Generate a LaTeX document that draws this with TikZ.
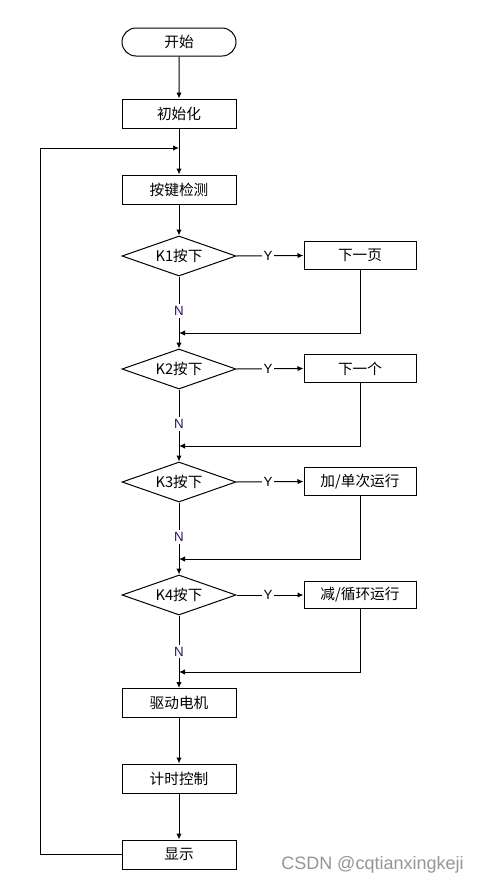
\documentclass[tikz,border=0pt]{standalone}
\usepackage{fontspec}
\setmainfont{Liberation Sans}
\newfontfamily\cjk{Noto Sans CJK SC}
\usetikzlibrary{shapes.geometric,shapes.misc,arrows.meta}
\definecolor{ncol}{RGB}{48,16,96}
\definecolor{wm}{RGB}{150,150,150}
\begin{document}
\begin{tikzpicture}[x=0.75pt,y=-0.75pt,
  box/.style={draw, line width=0.75pt, minimum width=85.5pt, minimum height=21.75pt, inner sep=0pt, font=\cjk\fontsize{11}{12}\selectfont},
  rbox/.style={box, minimum width=84pt, minimum height=20.5pt},
  term/.style={box, rounded rectangle, minimum height=21pt},
  dec/.style={draw, diamond, line width=0.75pt, minimum width=85.5pt, minimum height=30pt, inner sep=0pt, aspect=2.85, font=\cjk\fontsize{11}{12}\selectfont},
  arr/.style={line width=0.75pt, -{Latex[length=4.5pt,width=4pt]}},
  lab/.style={fill=white, inner sep=1.5pt, font=\fontsize{10}{11}\selectfont}
]
\fill[white] (0,0) rectangle (484,886);
\useasboundingbox (0,0) rectangle (484,886);

\node[term] (start) at (179,42) {开始};
\node[box] (init) at (179,113.5) {初始化};
\node[box] (key) at (179,189.5) {按键检测};

\node[dec] (d1) at (179,256) {K1按下};
\node[rbox] (b1) at (360,255.5) {下一页};
\node[dec] (d2) at (179,369) {K2按下};
\node[rbox] (b2) at (360,368.5) {下一个};
\node[dec] (d3) at (179,482) {K3按下};
\node[rbox] (b3) at (360,481.5) {加/单次运行};
\node[dec] (d4) at (179,595) {K4按下};
\node[rbox] (b4) at (360,595) {减/循环运行};

\node[box] (drive) at (179,703) {驱动电机};
\node[box] (timer) at (179,778.5) {计时控制};
\node[box] (show) at (179,854.5) {显示};

\coordinate (j0) at (179,148);
\coordinate (c1) at (40,854.5);
\coordinate (c2) at (40,148);
\coordinate (m1) at (179,333);
\coordinate (m2) at (179,446);
\coordinate (m3) at (179,559);
\coordinate (m4) at (179,672);

\draw[arr] (start) -- (init);
\draw[arr] (init) -- (key);
\draw[arr] (show.west) -- (c1) -- (c2) -- (j0);
\draw[arr] (key) -- (d1);

\draw[arr] (d1.east) -- node[lab, pos=0.47]{Y} (b1.west);
\draw[arr] (b1.south) |- (m1);
\draw[arr] (d1.south) -- node[lab, text=ncol, pos=0.48]{N} (d2.north);

\draw[arr] (d2.east) -- node[lab, pos=0.47]{Y} (b2.west);
\draw[arr] (b2.south) |- (m2);
\draw[arr] (d2.south) -- node[lab, text=ncol, pos=0.48]{N} (d3.north);

\draw[arr] (d3.east) -- node[lab, pos=0.47]{Y} (b3.west);
\draw[arr] (b3.south) |- (m3);
\draw[arr] (d3.south) -- node[lab, text=ncol, pos=0.48]{N} (d4.north);

\draw[arr] (d4.east) -- node[lab, pos=0.47]{Y} (b4.west);
\draw[arr] (b4.south) |- (m4);
\draw[arr] (d4.south) -- node[lab, text=ncol, pos=0.5]{N} (drive.north);

\draw[arr] (drive) -- (timer);
\draw[arr] (timer) -- (show);

\node[text=wm, font=\fontsize{13.5}{15}\selectfont, anchor=west, inner sep=0pt] (wmk) at (281,865) {CSDN @cqtianxingkeji};
\end{tikzpicture}
\end{document}
